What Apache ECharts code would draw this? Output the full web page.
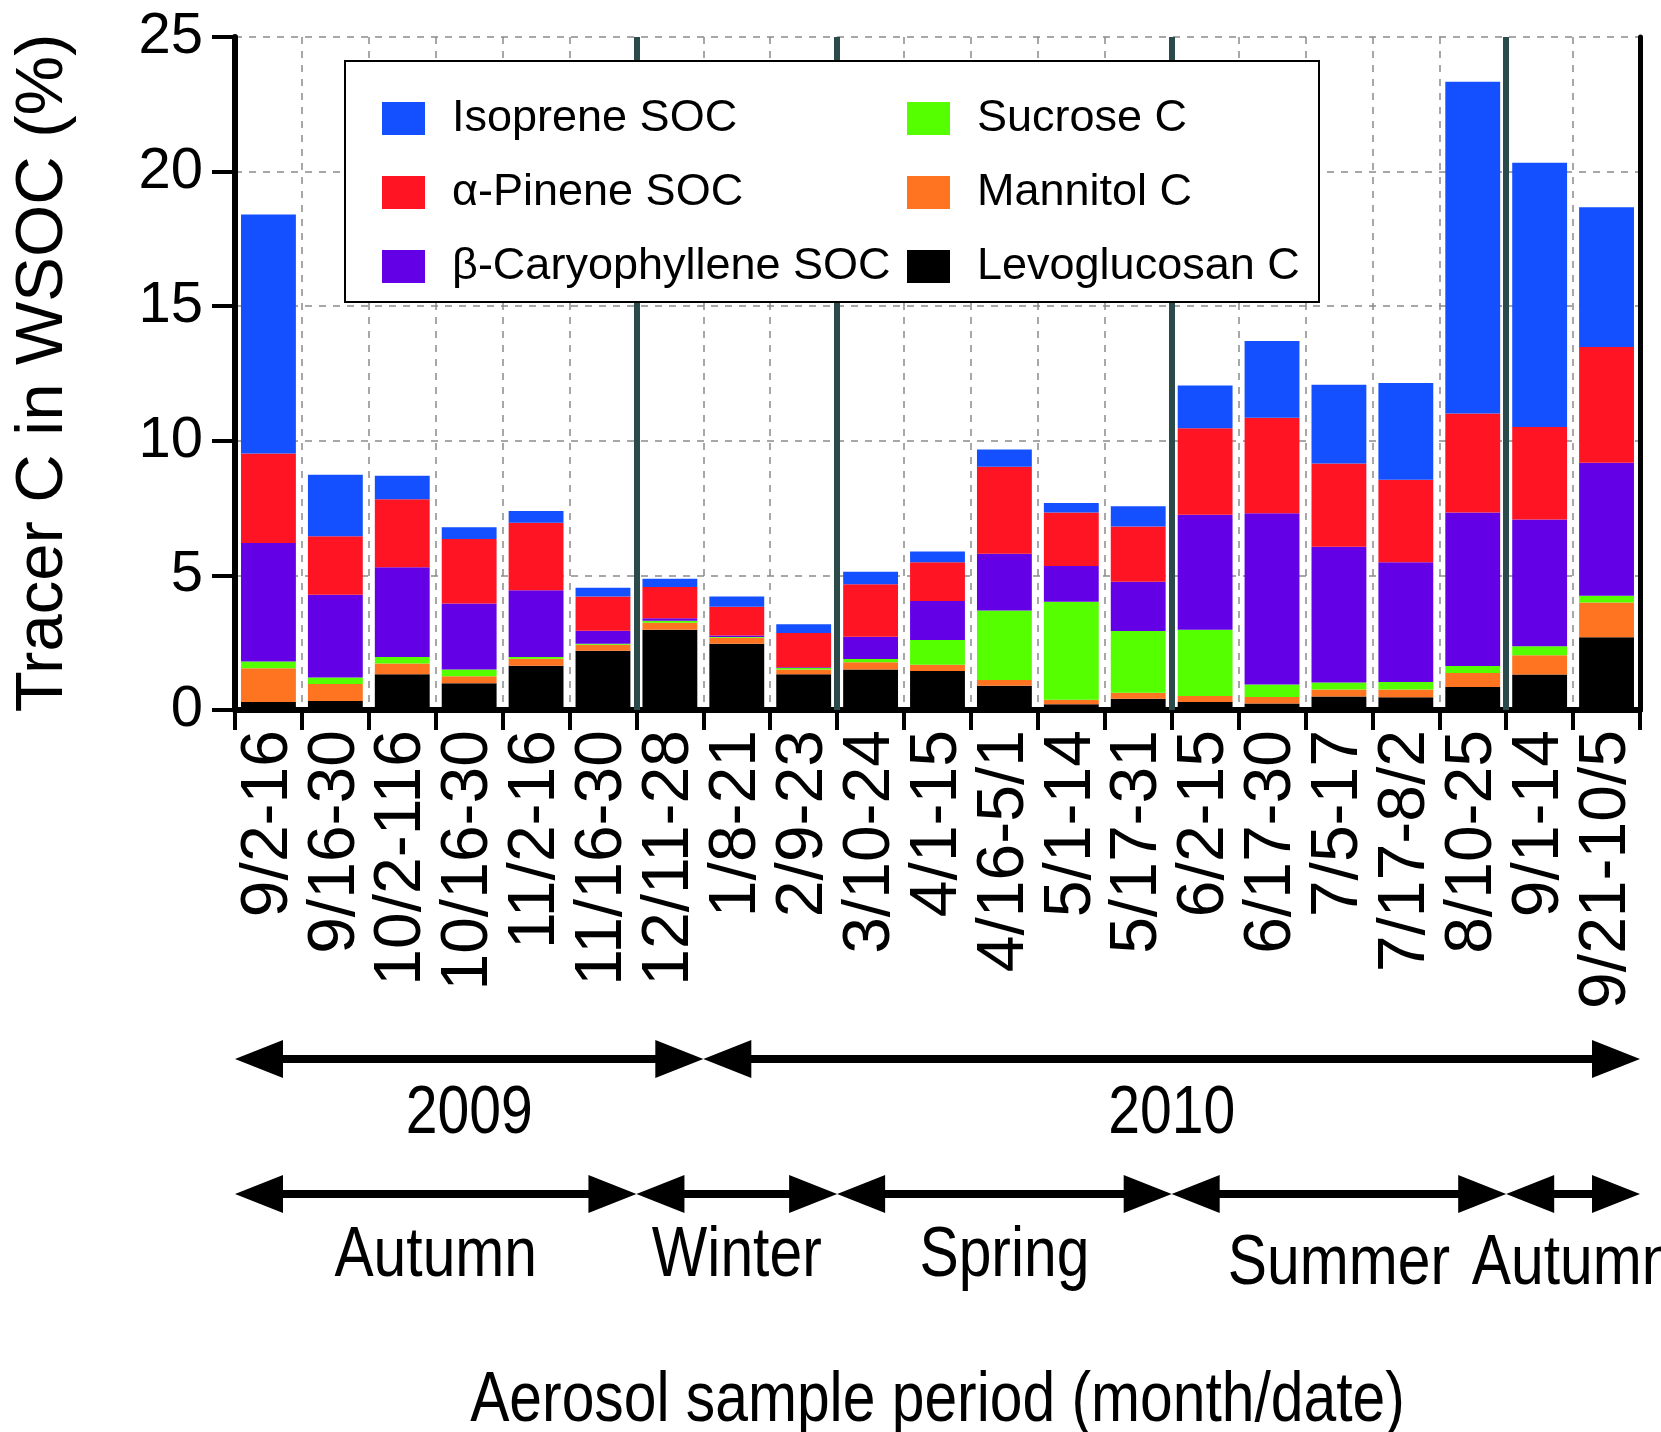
<!DOCTYPE html>
<html>
<head>
<meta charset="utf-8">
<script src="https://cdn.jsdelivr.net/npm/echarts@6/dist/echarts.min.js"></script>
<style>
  html, body { margin: 0; padding: 0; background: #fff; }
  #chart { width: 1661px; height: 1432px; }
</style>
</head>
<body>
<div id="chart"></div>
<script>
// Sample periods (month/date), Sep 2009 – Oct 2010
const periods = ['9/2-16', '9/16-30', '10/2-116', '10/16-30', '11/2-16', '11/16-30', '12/11-28',
  '1/8-21', '2/9-23', '3/10-24', '4/1-15', '4/16-5/1', '5/1-14', '5/17-31', '6/2-15', '6/17-30',
  '7/5-17', '7/17-8/2', '8/10-25', '9/1-14', '9/21-10/5'];

// Tracer carbon contributions to WSOC (%), one value per sample period
const levoglucosan = [0.30, 0.33, 1.33, 0.99, 1.64, 2.20, 2.98, 2.46, 1.33, 1.50, 1.45, 0.90, 0.21, 0.42, 0.30, 0.24, 0.50, 0.47, 0.85, 1.32, 2.70];
const mannitol     = [1.25, 0.64, 0.40, 0.26, 0.26, 0.22, 0.26, 0.22, 0.17, 0.27, 0.23, 0.21, 0.17, 0.22, 0.22, 0.24, 0.26, 0.29, 0.52, 0.71, 1.29];
const sucrose      = [0.25, 0.24, 0.24, 0.25, 0.07, 0.04, 0.08, 0.03, 0.06, 0.12, 0.92, 2.59, 3.64, 2.29, 2.46, 0.47, 0.26, 0.28, 0.26, 0.34, 0.25];
const caryophyllene= [4.40, 3.07, 3.33, 2.46, 2.48, 0.48, 0.09, 0.06, 0.03, 0.83, 1.45, 2.10, 1.33, 1.83, 4.27, 6.36, 5.04, 4.45, 5.71, 4.71, 4.94];
const pinene       = [3.33, 2.17, 2.53, 2.39, 2.51, 1.28, 1.16, 1.07, 1.27, 1.95, 1.44, 3.24, 1.99, 2.06, 3.22, 3.55, 3.10, 3.06, 3.67, 3.43, 4.30];
const isoprene     = [8.88, 2.29, 0.87, 0.44, 0.43, 0.32, 0.31, 0.38, 0.33, 0.47, 0.40, 0.64, 0.35, 0.75, 1.58, 2.85, 2.92, 3.60, 12.33, 9.82, 5.20];

// Y axis ticks
const yTicks = [0, 5, 10, 15, 20, 25];

// Period groupings, given as category boundaries (index of first period, index after last)
const years = [['2009', 0, 7], ['2010', 7, 21]];
const seasons = [['Autumn', 0, 6], ['Winter', 6, 9], ['Spring', 9, 14], ['Summer', 14, 19], ['Autumn', 19, 21]];
const seasonBreaks = [6, 9, 14, 19];

const FONT = "'Liberation Sans', Arial, Helvetica, sans-serif";
const NARROW_SCALE = 0.84;   // condensed look for the annotation lettering

const seriesDefs = [
  ['Levoglucosan C', levoglucosan, '#000000'],
  ['Mannitol C', mannitol, '#ff7420'],
  ['Sucrose C', sucrose, '#55ff00'],
  ['\u03b2-Caryophyllene SOC', caryophyllene, '#6400e6'],
  ['\u03b1-Pinene SOC', pinene, '#ff1424'],
  ['Isoprene SOC', isoprene, '#1450ff']
];

const chart = echarts.init(document.getElementById('chart'), null, { renderer: 'canvas' });

// Legend sits on its own layer above the white legend panel
const legendCommon = {
  orient: 'vertical',
  top: 87,
  itemWidth: 43,
  itemHeight: 33,
  itemGap: 21,
  icon: 'rect',
  zlevel: 2,
  z: 10,
  selectedMode: false,
  textStyle: { fontFamily: FONT, fontSize: 45, lineHeight: 53, color: '#000', padding: [0, 0, 0, 22] }
};

const frameAxis = { show: true, axisLine: { show: true, lineStyle: { color: '#000', width: 5 } },
  axisTick: { show: false }, axisLabel: { show: false }, splitLine: { show: false } };

const option = {
  animation: false,
  backgroundColor: '#fff',
  grid: { left: 235, top: 37, width: 1405, height: 673 },
  legend: [
    Object.assign({ left: 377, data: ['Isoprene SOC', '\u03b1-Pinene SOC', '\u03b2-Caryophyllene SOC'] }, legendCommon),
    Object.assign({ left: 902, data: ['Sucrose C', 'Mannitol C', 'Levoglucosan C'] }, legendCommon)
  ],
  xAxis: [
    {
      type: 'category',
      data: periods,
      boundaryGap: true,
      axisLine: { lineStyle: { color: '#000', width: 6 } },
      axisTick: { show: true, interval: 0, length: 20, lineStyle: { color: '#000', width: 4 } },
      axisLabel: { interval: 0, rotate: 90, margin: 20, fontSize: 66, fontFamily: FONT, color: '#000' },
      splitLine: { show: true, interval: 0, lineStyle: { color: '#8a8a8a', width: 1.5, type: [7, 7] } }
    },
    Object.assign({ type: 'value', position: 'top', min: 0, max: periods.length }, frameAxis)
  ],
  yAxis: [
    {
      type: 'value',
      min: yTicks[0],
      max: yTicks[yTicks.length - 1],
      interval: 5,
      axisLine: { show: true, lineStyle: { color: '#000', width: 6 } },
      axisTick: { show: true, length: 23, lineStyle: { color: '#000', width: 4 } },
      axisLabel: { margin: 32, fontSize: 58, fontFamily: FONT, color: '#000' },
      splitLine: { show: true, lineStyle: { color: '#8a8a8a', width: 1.5, type: [7, 7] } }
    },
    Object.assign({ type: 'value', position: 'right', min: yTicks[0], max: yTicks[yTicks.length - 1] }, frameAxis)
  ],
  series: seriesDefs.map(([name, values, color]) => ({
    name,
    type: 'bar',
    stack: 'tracer',
    xAxisIndex: 0,
    yAxisIndex: 0,
    data: values,
    barCategoryGap: '18%',
    itemStyle: { color },
    z: 2
  })).concat([{
    name: 'season-breaks',
    type: 'line',
    xAxisIndex: 1,
    yAxisIndex: 0,
    data: [],
    silent: true,
    z: 1,
    markLine: {
      silent: true,
      symbol: 'none',
      label: { show: false },
      lineStyle: { color: '#2b4a4a', width: 6, type: 'solid' },
      data: seasonBreaks.map(v => ({ xAxis: v }))
    }
  }]),
  graphic: [
    {
      type: 'rect', zlevel: 1,
      shape: { x: 345, y: 61, width: 974, height: 241 },
      style: { fill: '#fff', stroke: '#000', lineWidth: 2 }
    },
    {
      type: 'text',
      x: 44, y: 373, rotation: Math.PI / 2,
      style: { text: 'Tracer C in WSOC (%)', font: '67px ' + FONT, fill: '#000', textAlign: 'center', textVerticalAlign: 'middle' }
    }
  ]
};

chart.setOption(option);

// Period annotations below the axis, placed from the category boundaries
const px = v => chart.convertToPixel({ xAxisIndex: 1 }, v);
const HEAD = 48, HALF = 19, LW = 8;
function arrow(a, b, y) {
  return [
    { type: 'line', shape: { x1: a + HEAD - 2, y1: y, x2: b - HEAD + 2, y2: y }, style: { stroke: '#000', lineWidth: LW } },
    { type: 'polygon', shape: { points: [[a, y], [a + HEAD, y - HALF], [a + HEAD, y + HALF]] }, style: { fill: '#000' } },
    { type: 'polygon', shape: { points: [[b, y], [b - HEAD, y - HALF], [b - HEAD, y + HALF]] }, style: { fill: '#000' } }
  ];
}
function label(text, x, y, size) {
  return { type: 'text', x, y, scaleX: NARROW_SCALE,
    style: { text, font: size + 'px ' + FONT, fill: '#000', textAlign: 'center', textVerticalAlign: 'middle' } };
}
const extra = [];
years.forEach(([text, from, to]) => {
  const a = px(from), b = px(to);
  extra.push(...arrow(a, b, 1059));
  extra.push(label(text, (a + b) / 2, 1114, 68));
});
seasons.forEach(([text, from, to], i) => {
  const a = px(from), b = px(to);
  extra.push(...arrow(a, b, 1194));
  extra.push(label(text, (a + b) / 2, i >= 3 ? 1265 : 1257, 70));
});
extra.push(label('Aerosol sample period (month/date)', (px(0) + px(periods.length)) / 2, 1402, 70));

chart.setOption({ graphic: option.graphic.concat(extra) });
</script>
</body>
</html>
